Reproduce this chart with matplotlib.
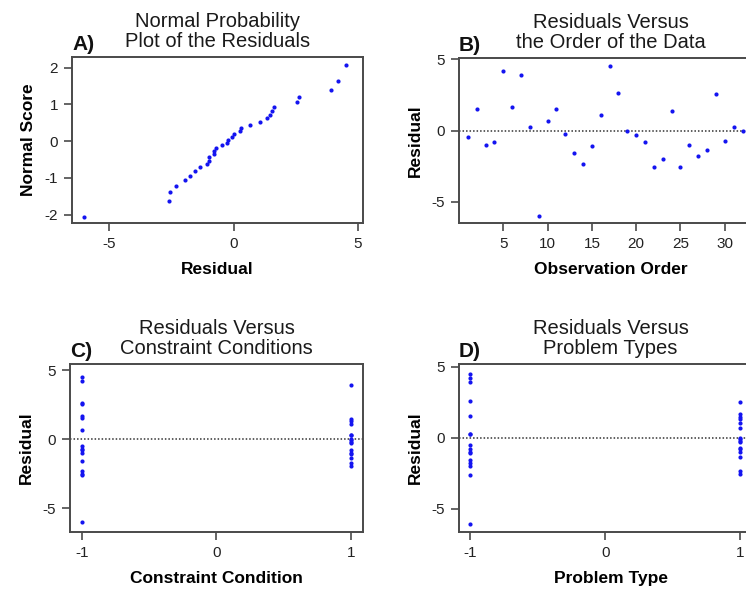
import numpy as np
import matplotlib
matplotlib.use('Agg')
import matplotlib.pyplot as plt

# ---------------------------------------------------------------------
# residual diagnostics, 4 panels (minitab style)
# ---------------------------------------------------------------------
plt.rcParams['font.family'] = ['Liberation Sans', 'DejaVu Sans']
plt.rcParams['axes.unicode_minus'] = False  # plain hyphen like the original

# residuals in observation order (1..32)
order = list(range(1, 33))
resid = [-0.47, 1.48, -0.99, -0.80, 4.18, 1.64, 3.92, 0.26, -6.03, 0.66,
         1.53, -0.21, -1.57, -2.32, -1.08, 1.06, 4.51, 2.61, 0.00, -0.28,
         -0.80, -2.54, -1.97, 1.34, -2.58, -1.01, -1.76, -1.34, 2.54, -0.70,
         0.28, -0.05]

# factor levels for each observation
constraint = [-1, 1, -1, -1, -1, -1, 1, 1, -1, -1, -1, 1, -1, -1, 1, 1,
              -1, -1, 1, 1, 1, -1, 1, 1, -1, 1, 1, 1, -1, -1, 1, 1]
ptype = [-1, 1, -1, -1, -1, 1, -1, -1, -1, 1, -1, 1, -1, 1, -1, 1,
         -1, -1, 1, 1, 1, 1, -1, 1, -1, 1, -1, 1, 1, 1, -1, 1]

# normal scores (ascending, paired with sorted residuals)
nscore = [-2.067, -1.641, -1.395, -1.214, -1.065, -0.937, -0.822, -0.718,
          -0.621, -0.529, -0.441, -0.357, -0.275, -0.196, -0.117, -0.039,
          0.039, 0.117, 0.196, 0.275, 0.357, 0.441, 0.529, 0.621,
          0.718, 0.822, 0.937, 1.065, 1.214, 1.395, 1.641, 2.067]

W, H = 746, 592
fig = plt.figure(figsize=(W/100, H/100), dpi=100)

def box(l, t, r, b):
    return [l/W, (H-b)/H, (r-l)/W, (b-t)/H]

axA = fig.add_axes(box(72, 57, 363, 223))
axB = fig.add_axes(box(459, 58, 762, 223))
axC = fig.add_axes(box(70, 364, 363, 532))
axD = fig.add_axes(box(459, 364, 762, 532))

dot = dict(marker='o', ms=3.0, color='#1414f0', ls='none', mec='none')
spc = '#4a4a4a'

def style(ax, title, tag, xlab, ylab):
    for s in ax.spines.values():
        s.set_color(spc)
        s.set_linewidth(1.4)
    ax.tick_params(direction='out', length=6, width=1.2, color=spc,
                   labelsize=11, labelcolor='#222222', pad=4)
    ax.set_title(title, fontsize=14.5, pad=7, linespacing=1.1, color='#1a1a1a')
    ax.annotate(tag, xy=(0, 1), xycoords='axes fraction', xytext=(0, 5),
                textcoords='offset points', ha='left', va='baseline',
                fontsize=15, fontweight='bold', color='#111111')
    ax.set_xlabel(xlab, fontsize=12.5, fontweight='bold', labelpad=8)
    ax.set_ylabel(ylab, fontsize=12.5, fontweight='bold', labelpad=6)

def zero_line(ax):
    ax.axhline(0, color='#333333', ls=(0, (1, 1.3)), lw=1.1, zorder=0)

# A) normal probability plot
axA.plot(sorted(resid), nscore, **dot)
axA.set_xlim(-6.5, 5.2)
axA.set_ylim(-2.23, 2.29)
axA.set_xticks([-5, 0, 5])
axA.set_yticks([-2, -1, 0, 1, 2])
style(axA, 'Normal Probability\nPlot of the Residuals', 'A)', 'Residual', 'Normal Score')

# B) residuals vs order
axB.plot(order, resid, **dot)
zero_line(axB)
axB.set_xlim(0, 34.2)
axB.set_ylim(-6.5, 5.1)
axB.set_xticks([5, 10, 15, 20, 25, 30])
axB.set_yticks([-5, 0, 5])
style(axB, 'Residuals Versus\nthe Order of the Data', 'B)', 'Observation Order', 'Residual')

# C) residuals vs constraint condition
axC.plot(constraint, resid, **dot)
zero_line(axC)
axC.set_xlim(-1.087, 1.09)
axC.set_ylim(-6.74, 5.44)
axC.set_xticks([-1, 0, 1])
axC.set_yticks([-5, 0, 5])
style(axC, 'Residuals Versus\nConstraint Conditions', 'C)', 'Constraint Condition', 'Residual')

# D) residuals vs problem type
axD.plot(ptype, resid, **dot)
zero_line(axD)
axD.set_xlim(-1.084, 1.163)
axD.set_ylim(-6.62, 5.19)
axD.set_xticks([-1, 0, 1])
axD.set_yticks([-5, 0, 5])
style(axD, 'Residuals Versus\nProblem Types', 'D)', 'Problem Type', 'Residual')

fig.savefig('out.png', dpi=100)
